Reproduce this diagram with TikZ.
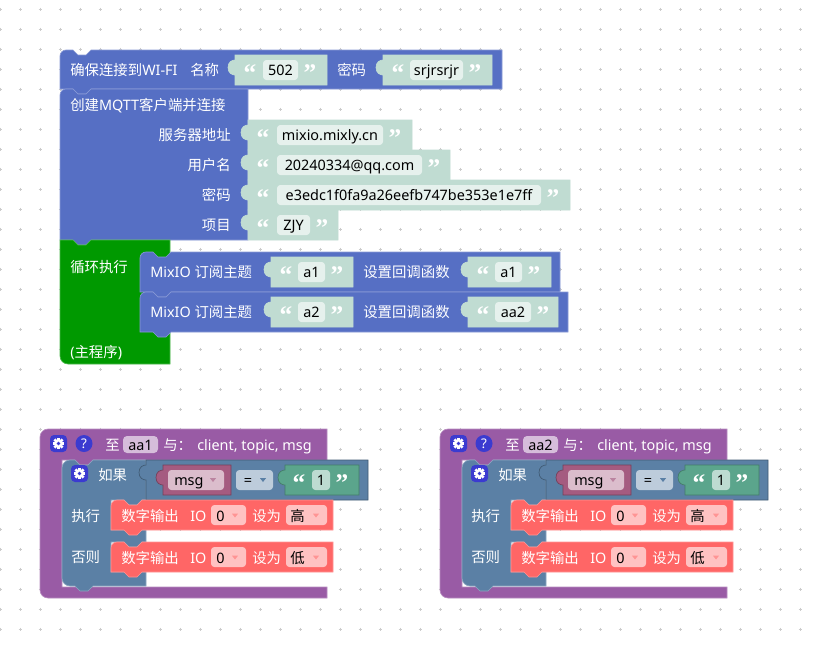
\documentclass[tikz,border=0pt]{standalone}
\usepackage{fontspec}
\setmainfont{Noto Sans}
\newfontfamily\cjk{Noto Sans CJK SC}
\newfontfamily\qf{Liberation Serif}
\definecolor{bblue}{HTML}{566FC4}
\definecolor{slotg}{HTML}{C0DCD2}
\definecolor{loopg}{HTML}{009900}
\definecolor{procp}{HTML}{995BA5}
\definecolor{steel}{HTML}{5B80A5}
\definecolor{varc}{HTML}{A55B80}
\definecolor{tgreen}{HTML}{5BA58C}
\definecolor{redc}{HTML}{FF6666}
\definecolor{iconc}{HTML}{3B3BD0}
\definecolor{gridc}{HTML}{CCCCCC}
\colorlet{boxg}{white!60!slotg}
\tikzset{
 lbl/.style={text=white, inner sep=0pt, anchor=base west},
 lblr/.style={text=white, inner sep=0pt, anchor=base east},
 val/.style={text=black, inner sep=0pt, anchor=base},
 valw/.style={text=black, inner sep=0pt, anchor=base west},
 qt/.style={text=white, inner sep=0pt, anchor=base, font=\qf\bfseries\fontsize{19}{19}\selectfont},
 blk/.style={line width=0.5pt},
}
\newcommand\stmtblk[5]{\filldraw[blk, fill=#1, draw=#1!70!white] (#2,#3+6) arc[start angle=180,end angle=270,radius=6] -- (#2+13,#3) -- (#2+18,#3+5) -- (#2+26,#3+5) -- (#2+31,#3) -- (#2+#4,#3) -- (#2+#4,#3+#5) -- (#2+31,#3+#5) -- (#2+26,#3+#5+5) -- (#2+18,#3+#5+5) -- (#2+13,#3+#5) -- (#2,#3+#5) -- cycle;}
\newcommand\valblk[5]{\filldraw[blk, #1] (#2,#3) -- (#2+#4,#3) -- (#2+#4,#3+#5) -- (#2,#3+#5) -- (#2,#3+20) .. controls (#2-3,#3+20) and (#2-7,#3+18) .. (#2-7,#3+12.5) .. controls (#2-7,#3+7) and (#2-3,#3+5) .. (#2,#3+5) -- cycle;}
\newcommand\strin[6]{%
 \node[qt] (#1-q1) at (#2+15,#3+26) {“};
 \fill[boxg, rounded corners=2.5pt] (#4,#3+5) rectangle (#5,#3+25);
 \node[val] (#1) at ({(#4+#5)/2},#3+20) {#6};
 \node[qt] (#1-q2) at (#5+12,#3+26) {”};}
\newcommand\gearicon[2]{%
 \fill[iconc, rounded corners=3pt] (#1,#2) rectangle (#1+17,#2+17);
 \begin{scope}[shift={(#1+8.5,#2+8.5)}]
  \foreach \a in {0,45,90,135} {\fill[white, rotate=\a] (-1.4,-5.8) rectangle (1.4,5.8);}
  \fill[white] (0,0) circle (4.3);
  \fill[iconc] (0,0) circle (1.9);
 \end{scope}}
\newcommand\ddarrow[3]{\fill[#3] (#1-3,#2-1.8) -- (#1+3,#2-1.8) -- (#1,#2+2) -- cycle;}
\newcommand\redblk[3]{% y, suffix, value text
 \stmtblk{redc}{111}{#1}{222}{30}
 \node[lbl] (dout#2) at (121,#1+21) {\cjk 数字输出};
 \node[lbl] (io#2) at (190,#1+21) {IO};
 \fill[redc!40!white, rounded corners=2.5pt] (211,#1+5) rectangle (246,#1+25);
 \node[valw] (pin#2) at (216,#1+21) {0};
 \ddarrow{235}{#1+15.5}{redc!70!white}
 \node[lbl] (set#2) at (252,#1+21) {\cjk 设为};
 \fill[redc!40!white, rounded corners=2.5pt] (286,#1+5) rectangle (327,#1+25);
 \node[valw] (lv#2) at (290,#1+21) {\cjk #3};
 \ddarrow{316}{#1+15.5}{redc!70!white}}
\newcommand\procblk[3]{%
\begin{scope}[xshift=#1]
 \filldraw[blk, fill=procp, draw=procp!70!white] (40,437) arc[start angle=180,end angle=270,radius=8] -- (327,429) -- (327,460) -- (93,460) -- (88,465) -- (80,465) -- (75,460) -- (62,460) -- (62,587) -- (327,587) -- (327,598) -- (48,598) arc[start angle=90,end angle=180,radius=8] -- cycle;
 \filldraw[blk, fill=steel, draw=steel!70!white] (62,468) arc[start angle=180,end angle=270,radius=8] -- (75,460) -- (80,465) -- (88,465) -- (93,460) -- (146,460) -- (146,500) -- (142,500) -- (137,505) -- (129,505) -- (124,500) -- (111,500) -- (111,530) -- (146,530) -- (146,542) -- (142,542) -- (137,547) -- (129,547) -- (124,542) -- (111,542) -- (111,572) -- (146,572) -- (146,586) -- (93,586) -- (88,591) -- (80,591) -- (75,586) -- (70,586) arc[start angle=90,end angle=180,radius=8] -- cycle;
 \gearicon{50}{435}
 \fill[iconc] (84,443.5) circle (8.5);
 \node[text=white, inner sep=0pt, font=\bfseries\fontsize{10}{10}\selectfont] (help#2) at (84,443.5) {?};
 \node[lbl] (zhi#2) at (105,450) {\cjk 至};
 \fill[procp!40!white, rounded corners=3pt] (123,436) rectangle (158,453);
 \node[val] (fn#2) at (140.5,450) {#3};
 \node[lbl] (yu#2) at (163,450) {\cjk 与：};
 \node[lbl] (args#2) at (197,450) {client, topic, msg};
 \gearicon{71}{465}
 \node[lbl] (ruguo#2) at (98,480) {\cjk 如果};
 \node[lbl] (zhixing#2) at (71,521) {\cjk 执行};
 \node[lbl] (fouze#2) at (71,562) {\cjk 否则};
 \valblk{fill=steel, draw=steel!70!black}{146}{460}{222}{40}
 \valblk{fill=varc, draw=varc!70!black}{163}{465}{68}{30}
 \fill[varc!40!white, rounded corners=2.5pt] (168,470) rectangle (224,490);
 \node[valw] (msg#2) at (174,485) {msg};
 \ddarrow{213}{480}{varc!75!white}
 \fill[steel!40!white, rounded corners=2.5pt] (236,470) rectangle (273,490);
 \node[val] (eq#2) at (248,485) {=};
 \ddarrow{263}{480}{steel}
 \valblk{fill=tgreen, draw=tgreen!75!black}{285}{465}{74}{30}
 \node[qt] (oq1#2) at (299,491) {“};
 \fill[tgreen!40!white, rounded corners=2.5pt] (312,470) rectangle (330,490);
 \node[val] (one#2) at (321,485) {1};
 \node[qt] (oq2#2) at (342,491) {”};
 \redblk{500}{a#2}{高}
 \redblk{542}{b#2}{低}
\end{scope}}

\begin{document}
\begin{tikzpicture}[x=0.75pt,y=-0.75pt,font=\fontsize{10.8}{13}\selectfont]
\useasboundingbox[fill=white] (0,0) rectangle (814,647);
\foreach \i in {0,...,40}{\foreach \j in {0,...,31}{\draw[gridc, line width=0.6pt] (20*\i-1.5,9+20*\j) -- ++(3,0) (20*\i,7.5+20*\j) -- ++(0,3);}}

% main stack
\stmtblk{bblue}{60}{50}{442}{39}
\stmtblk{bblue}{60}{89}{188}{151}
\filldraw[blk, fill=loopg, draw=loopg!70!white] (60,240) -- (73,240) -- (78,245) -- (86,245) -- (91,240) -- (170,240) -- (170,364) -- (68,364) arc[start angle=90,end angle=180,radius=8] -- cycle;
\stmtblk{bblue}{140}{252}{420}{40}
\stmtblk{bblue}{140}{292}{428}{40}

% wifi row
\node[lbl] (wifi) at (70,75) {{\cjk 确保连接到}WI-FI};
\node[lbl] (ssidl) at (190,75) {\cjk 名称};
\valblk{fill=slotg, draw=slotg}{235}{55}{92}{30}
\strin{ssid}{235}{55}{263}{298}{502}
\node[lbl] (pwdl) at (337,75) {\cjk 密码};
\valblk{fill=slotg, draw=slotg}{383}{55}{109}{30}
\strin{pwd}{383}{55}{410}{463}{srjrsrjr}

% mqtt
\node[lbl] (mqtt) at (70,110) {{\cjk 创建}MQTT{\cjk 客户端并连接}};
\node[lblr] (srvl) at (231,140) {\cjk 服务器地址};
\node[lblr] (userl) at (231,170) {\cjk 用户名};
\node[lblr] (keyl) at (231,200) {\cjk 密码};
\node[lblr] (projl) at (231,230) {\cjk 项目};
\valblk{fill=slotg, draw=slotg}{248}{120}{164}{30}
\valblk{fill=slotg, draw=slotg}{248}{150}{202}{30}
\valblk{fill=slotg, draw=slotg}{248}{180}{322}{30}
\valblk{fill=slotg, draw=slotg}{248}{210}{90}{30}
\strin{srv}{248}{120}{277}{383}{mixio.mixly.cn}
\strin{user}{248}{150}{277}{422}{20240334@qq.com}
\strin{key}{248}{180}{277}{541}{e3edc1f0fa9a26eefb747be353e1e7ff}
\strin{proj}{248}{210}{277}{310}{ZJY}

% loop
\node[lbl] (loop) at (70,272) {\cjk 循环执行};
\node[lbl] (mainp) at (70,357) {({\cjk 主程序})};
\node[lbl] (sub1) at (150,277) {MixIO {\cjk 订阅主题}};
\node[lbl] (cb1l) at (363,277) {\cjk 设置回调函数};
\valblk{fill=slotg, draw=slotg}{271}{257}{82}{30}
\strin{t1}{271}{257}{298}{325}{a1}
\valblk{fill=slotg, draw=slotg}{468}{257}{83}{30}
\strin{c1}{468}{257}{495}{522}{a1}
\node[lbl] (sub2) at (150,317) {MixIO {\cjk 订阅主题}};
\node[lbl] (cb2l) at (363,317) {\cjk 设置回调函数};
\valblk{fill=slotg, draw=slotg}{271}{297}{82}{30}
\strin{t2}{271}{297}{298}{325}{a2}
\valblk{fill=slotg, draw=slotg}{468}{297}{90}{30}
\strin{c2}{468}{297}{495}{531}{aa2}

% procedures
\procblk{0pt}{L}{aa1}
\procblk{300pt}{R}{aa2}
\end{tikzpicture}
\end{document}
